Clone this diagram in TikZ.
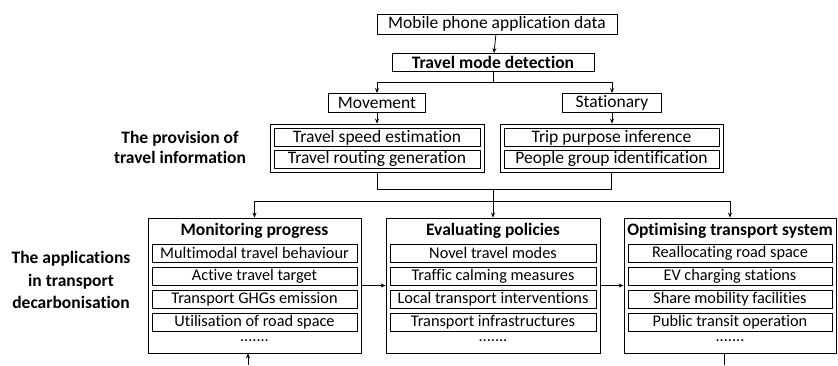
\documentclass[tikz,border=0pt]{standalone}
\usepackage{fontspec}
\setmainfont{Carlito}[Ligatures=NoCommon]
\usetikzlibrary{arrows.meta}
\newcommand\fbig{\fontsize{17.5}{20}\selectfont}
\newcommand\fmid{\fontsize{16.3}{20}\selectfont}
\begin{document}
\begin{tikzpicture}[x=1pt,y=-1pt,
  bx/.style={draw, line width=0.8pt, inner sep=0pt, font=\fbig},
  ib/.style={draw, line width=0.8pt, inner sep=0pt, font=\fmid, minimum height=18pt},
  ar/.style={-{Stealth[length=5pt,width=4pt]}, line width=0.8pt},
  ln/.style={line width=0.8pt},
  lab/.style={font=\fbig\bfseries, align=center},
  ttl/.style={font=\fbig\bfseries, inner sep=0pt}]
\useasboundingbox (0,0) rectangle (838,365);
% top part
\node[bx, minimum width=240pt, minimum height=20pt] (mob) at (497,24) {Mobile phone application data};
\node[bx, minimum width=202pt, minimum height=18pt, font=\fbig\bfseries] (tmd) at (493,62.5) {Travel mode detection};
\node[bx, minimum width=97pt, minimum height=19pt] (mov) at (377,103) {Movement};
\node[bx, minimum width=99pt, minimum height=19pt] (sta) at (612,103) {Stationary};
% groups
\node[bx, minimum width=214pt, minimum height=48pt] (lg) at (377,148) {};
\node[ib, font=\fbig, minimum width=206pt] (tse) at (377,137.5) {Travel speed estimation};
\node[ib, font=\fbig, minimum width=206pt] (trg) at (377,159) {Travel routing generation};
\node[bx, minimum width=223pt, minimum height=48pt] (rg) at (611.5,148) {};
\node[ib, font=\fbig, minimum width=215pt] (tpi) at (611.5,137.5) {Trip purpose inference};
\node[ib, font=\fbig, minimum width=215pt] (pgi) at (611.5,159) {People group identification};
% labels
\node[lab] (prov) at (180,147) {The provision of\\travel information};
\node[lab, font=\fontsize{17.5}{22.5}\selectfont\bfseries] (appl) at (71,280) {The applications\\in transport\\decarbonisation};
% application boxes
\node[bx, minimum width=213pt, minimum height=135pt] (mon) at (254.5,285.5) {};
\node[bx, minimum width=214pt, minimum height=135pt] (eva) at (493,285.5) {};
\node[bx, minimum width=212pt, minimum height=135pt] (opt) at (730,285.5) {};
\node[ttl] (monT) at (254.5,231) {Monitoring progress};
\node[ttl] (evaT) at (493,231) {Evaluating policies};
\node[ttl] (optT) at (730,231) {Optimising transport system};
% monitoring rows
\node[ib, minimum width=205pt] (m1) at (254.5,253) {Multimodal travel behaviour};
\node[ib, minimum width=205pt] (m2) at (254.5,276) {Active travel target};
\node[ib, minimum width=205pt] (m3) at (254.5,299) {Transport GHGs emission};
\node[ib, minimum width=205pt] (m4) at (254.5,322) {Utilisation of road space};
\node[font=\fmid, inner sep=0pt] (m5) at (254.5,341) {.......};
% evaluating rows
\node[ib, minimum width=206pt] (e1) at (493,253) {Novel travel modes};
\node[ib, minimum width=206pt] (e2) at (493,276) {Traffic calming measures};
\node[ib, minimum width=206pt] (e3) at (493,299) {Local transport interventions};
\node[ib, minimum width=206pt] (e4) at (493,322) {Transport infrastructures};
\node[font=\fmid, inner sep=0pt] (e5) at (493,341) {.......};
% optimising rows
\node[ib, minimum width=204pt] (o1) at (730,253) {Reallocating road space};
\node[ib, minimum width=204pt] (o2) at (730,276) {EV charging stations};
\node[ib, minimum width=204pt] (o3) at (730,299) {Share mobility facilities};
\node[ib, minimum width=204pt] (o4) at (730,322) {Public transit operation};
\node[font=\fmid, inner sep=0pt] (o5) at (730,341) {.......};
% connectors
\draw[ar] (mob) -- (tmd);
\coordinate (s1) at (493,82);
\draw[ln] (tmd.south) -- (s1);
\draw[ar] (s1) -| (mov.north);
\draw[ar] (s1) -| (sta.north);
\draw[ar] (mov) -- (lg);
\draw[ar] (sta.south) -- (sta.south |- rg.north);
\coordinate (j1) at (493,189);
\coordinate (j2) at (493,201);
\draw[ln] (lg.south) |- (j1);
\draw[ln] (rg.south) |- (j1);
\draw[ar] (j1) -- (eva.north);
\draw[ar] (j2) -| (mon.north);
\draw[ar] (j2) -| (opt.north);
\draw[ar] (mon) -- (eva);
\draw[ar] (eva) -- (opt);
\coordinate (fbL) at (248,365);
\coordinate (fbR) at (724,365);
\draw[ar] (fbL) -- (fbL |- mon.south);
\draw[ln] (fbR |- opt.south) -- (fbR);
\end{tikzpicture}
\end{document}
